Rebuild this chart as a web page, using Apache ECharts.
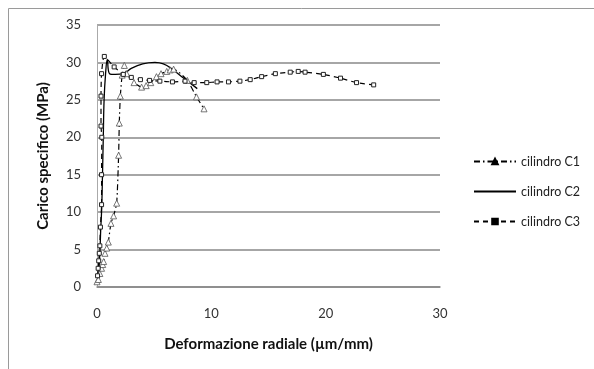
<!DOCTYPE html>
<html><head><meta charset="utf-8">
<script src="https://cdn.jsdelivr.net/npm/echarts@6/dist/echarts.min.js"></script>
<style>html,body{margin:0;padding:0;background:#fff}#c{width:594px;height:369px}</style>
</head><body><div id="c"></div>
<script>
const xTicks = [0, 10, 20, 30];
const yTicks = [0, 5, 10, 15, 20, 25, 30, 35];
const seriesNames = ['cilindro C1', 'cilindro C2', 'cilindro C3'];

const c1X = [0, 0.12, 0.25, 0.4, 0.5, 0.58, 0.7, 0.85, 0.99, 1.22, 1.45, 1.72, 1.89, 1.95, 2.04, 2.2, 2.39, 2.6, 3.24, 3.9, 4.3, 4.7, 5.2, 5.6, 6.1, 6.4, 6.7, 7.9, 8.7, 9.36];
const c1Y = [0.7, 1.0, 1.8, 2.5, 3.0, 3.4, 4.5, 5.2, 6.0, 8.5, 9.5, 11.2, 17.6, 21.9, 25.5, 28.3, 29.6, 28.5, 27.3, 26.7, 26.9, 27.3, 28.1, 28.5, 28.8, 29.0, 29.1, 27.6, 25.4, 23.8];

const c2X = [0.05, 0.15, 0.25, 0.32, 0.41, 0.48, 0.55, 0.62, 0.75, 0.9, 1.1, 1.6, 2.3, 3.0, 4.0, 5.07, 5.8, 6.5, 7.5, 8.77];
const c2Y = [0.6, 2.0, 4.5, 7.5, 10.5, 15, 20, 25, 28.5, 30.4, 28.5, 28.4, 28.5, 29.2, 29.8, 30.0, 29.8, 29.2, 28.0, 26.5];

const c3X = [0.05, 0.1, 0.15, 0.2, 0.25, 0.3, 0.4, 0.4, 0.42, 0.35, 0.35, 0.4, 0.64, 1.5, 2.3, 3.0, 3.8, 4.6, 5.5, 6.6, 7.7, 8.5, 9.6, 10.5, 11.5, 12.5, 13.4, 14.4, 15.6, 16.9, 17.6, 18.2, 19.8, 21.3, 22.7, 24.2];
const c3Y = [1.5, 2.5, 3.5, 4.5, 5.5, 8.0, 11.0, 15.0, 20.0, 21.5, 25.5, 28.5, 30.8, 29.4, 28.4, 28.0, 27.7, 27.6, 27.5, 27.4, 27.5, 27.3, 27.3, 27.4, 27.4, 27.5, 27.7, 28.1, 28.5, 28.7, 28.8, 28.7, 28.4, 27.9, 27.3, 27.0];

function zip(xs, ys) { return xs.map((x, i) => [x, ys[i]]); }

const font = "Lato, 'Open Sans', sans-serif";
const chart = echarts.init(document.getElementById('c'), null, {renderer: 'canvas'});
chart.setOption({
  animation: false,
  backgroundColor: '#fff',
  textStyle: {fontFamily: font},
  graphic: [{type: 'rect', shape: {x: 8.5, y: 8.5, width: 600, height: 400}, style: {fill: 'none', stroke: '#9a9a9a', lineWidth: 1}, silent: true}],
  grid: {left: 97, right: 154, top: 25, bottom: 82},
  legend: {
    orient: 'vertical', left: 468, top: 150, itemGap: 17, itemWidth: 42, itemHeight: 7,
    textStyle: {fontFamily: font, fontSize: 12.5, color: '#222'},
    data: [
      {name: seriesNames[0], itemStyle: {color: '#000', borderColor: '#000'}},
      {name: seriesNames[1], itemStyle: {color: 'rgba(0,0,0,0)', borderColor: 'rgba(0,0,0,0)', borderWidth: 0}},
      {name: seriesNames[2], itemStyle: {color: '#000', borderColor: '#000'}}
    ]
  },
  xAxis: {
    type: 'value', min: 0, max: 30, interval: 10,
    name: 'Deformazione radiale (µm/mm)', nameLocation: 'middle', nameGap: 50,
    nameTextStyle: {fontFamily: font, fontSize: 15, fontWeight: 'bold', color: '#111'},
    axisLine: {show: true, lineStyle: {color: '#888', width: 1.5}},
    axisTick: {show: false},
    axisLabel: {fontFamily: font, fontSize: 13, color: '#333', margin: 20, formatter: v => xTicks.includes(v) ? String(v) : ''},
    splitLine: {show: false}
  },
  yAxis: {
    type: 'value', min: 0, max: 35, interval: 5,
    name: 'Carico specifico (MPa)', nameLocation: 'middle', nameGap: 46,
    nameTextStyle: {fontFamily: font, fontSize: 15, fontWeight: 'bold', color: '#111'},
    axisLine: {show: true, lineStyle: {color: '#aaa', width: 1}},
    axisTick: {show: false},
    axisLabel: {fontFamily: font, fontSize: 13, color: '#333', margin: 16, formatter: v => yTicks.includes(v) ? String(v) : ''},
    splitLine: {show: true, lineStyle: {color: '#888', width: 1.5}}
  },
  series: [
    {
      name: seriesNames[0], type: 'line', data: zip(c1X, c1Y),
      smooth: 0.2, symbol: 'triangle', symbolSize: 6,
      itemStyle: {color: '#fff', borderColor: '#555', borderWidth: 0.8},
      lineStyle: {color: '#000', width: 1.2, type: [6, 3, 1.5, 3]},
      emphasis: {disabled: true}
    },
    {
      name: seriesNames[1], type: 'line', data: zip(c2X, c2Y),
      smooth: 0.4, showSymbol: false, symbol: 'none',
      itemStyle: {color: '#000'},
      lineStyle: {color: '#000', width: 1.3},
      emphasis: {disabled: true}
    },
    {
      name: seriesNames[2], type: 'line', data: zip(c3X, c3Y),
      smooth: 0.2, symbol: 'rect', symbolSize: 4,
      itemStyle: {color: '#fff', borderColor: '#222', borderWidth: 1},
      lineStyle: {color: '#000', width: 1.2, type: [5, 4]},
      emphasis: {disabled: true}
    }
  ]
});
</script></body></html>
